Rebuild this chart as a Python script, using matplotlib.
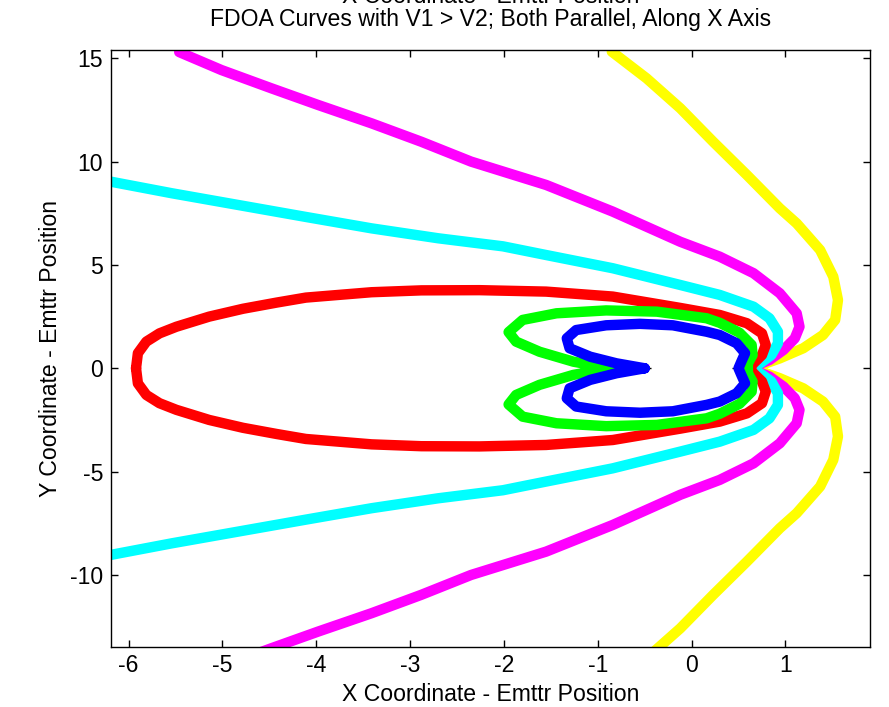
import numpy as np
import matplotlib
matplotlib.use("Agg")
import matplotlib.pyplot as plt

plt.rcParams['font.family'] = ['Liberation Sans', 'DejaVu Sans']
plt.rcParams['axes.unicode_minus'] = False

# upper halves of the curves (y >= 0); lower half is the mirror
red_x = [-5.92, -5.90, -5.81, -5.67, -5.49, -5.14, -4.78, -4.42, -4.11, -3.41, -2.88, -2.26,
         -1.55, -0.84, -0.12, 0.30, 0.59, 0.75, 0.79, 0.75, 0.66, 0.62]
red_y = [0.00, 0.73, 1.29, 1.69, 2.01, 2.50, 2.88, 3.18, 3.42, 3.68, 3.77, 3.78,
         3.71, 3.47, 2.92, 2.58, 2.18, 1.69, 1.13, 0.64, 0.24, 0.00]

green_x = [-0.87, -1.26, -1.62, -1.87, -1.95, -1.80, -1.44, -0.91, -0.37, 0.16, 0.30, 0.51,
           0.64, 0.65, 0.60, 0.60]
green_y = [0.00, 0.32, 0.80, 1.29, 1.75, 2.34, 2.66, 2.80, 2.74, 2.42, 2.20, 1.72,
           1.13, 0.64, 0.24, 0.00]

blue_x = [-0.50, -0.80, -1.08, -1.30, -1.33, -1.23, -0.91, -0.55, -0.20, 0.16, 0.30, 0.48,
          0.57, 0.53, 0.50]
blue_y = [0.00, 0.24, 0.56, 0.97, 1.45, 1.85, 2.08, 2.15, 2.08, 1.77, 1.61, 1.21,
          0.73, 0.32, 0.00]

cyan_x = [-6.19, -5.54, -4.83, -4.12, -3.41, -2.70, -2.01, -1.55, -0.84, -0.12, 0.30, 0.66,
          0.83, 0.92, 0.92, 0.85, 0.73, 0.62]
cyan_y = [9.03, 8.47, 7.90, 7.33, 6.77, 6.29, 5.90, 5.48, 4.84, 4.03, 3.55, 2.98,
          2.42, 1.77, 1.21, 0.64, 0.24, 0.00]

magenta_x = [-5.46, -5.01, -4.48, -3.98, -3.41, -2.88, -2.35, -1.55, -0.84, -0.12, 0.30, 0.66,
             0.94, 1.12, 1.15, 1.10, 0.98, 0.83, 0.62]
magenta_y = [15.30, 14.43, 13.55, 12.74, 11.85, 10.96, 10.00, 8.87, 7.58, 6.12, 5.40, 4.60,
             3.63, 2.66, 2.01, 1.45, 0.89, 0.40, 0.00]

yellow_x = [-0.85, -0.48, -0.12, 0.23, 0.59, 0.94, 1.12, 1.37, 1.51, 1.56, 1.53, 1.40,
            1.19, 0.94, 0.69, 0.62]
yellow_y = [15.32, 14.03, 12.58, 10.96, 9.35, 7.74, 7.01, 5.72, 4.43, 3.30, 2.34, 1.61,
            0.97, 0.48, 0.08, 0.00]

# receiver positions
rx_x = [-0.47, 0.47]
rx_y = [0.0, 0.0]

curves = [
    (yellow_x, yellow_y, (1, 1, 0)),
    (magenta_x, magenta_y, (1, 0, 1)),
    (cyan_x, cyan_y, (0, 1, 1)),
    (red_x, red_y, (1, 0, 0)),
    (green_x, green_y, (0, 1, 0)),
    (blue_x, blue_y, (0, 0, 1)),
]

fig = plt.figure(figsize=(8.89, 7.07), dpi=100)
ax = fig.add_axes([0.1245, 0.0853, 0.854, 0.844])

ax.plot(rx_x, rx_y, 'k+', ms=6, mew=1.0, zorder=1)

for xs, ys, c in curves:
    xs = np.array(xs)
    ys = np.array(ys)
    full_x = np.concatenate([xs, xs[::-1]])
    full_y = np.concatenate([ys, -ys[::-1]])
    ax.plot(full_x, full_y, color=c, lw=7.5, solid_capstyle='round',
            solid_joinstyle='round', zorder=2)

ax.set_xlim(-6.19, 1.90)
ax.set_ylim(-13.47, 15.40)
ax.set_xticks([-6, -5, -4, -3, -2, -1, 0, 1])
ax.set_yticks([-10, -5, 0, 5, 10, 15])
ax.tick_params(direction='in', top=True, right=True, length=5, width=1, labelsize=16.6, pad=5.5)
for s in ax.spines.values():
    s.set_linewidth(1.0)

ax.set_xlabel("X Coordinate - Emttr Position", fontsize=16.6, labelpad=4)
ax.set_ylabel("Y Coordinate - Emttr Position", fontsize=16.6, labelpad=6)
ax.set_title("X Coordinate - Emttr Position\nFDOA Curves with V1 > V2; Both Parallel, Along X Axis",
             fontsize=16.6, pad=17, linespacing=1.0)

fig.savefig("out.png", dpi=100)
